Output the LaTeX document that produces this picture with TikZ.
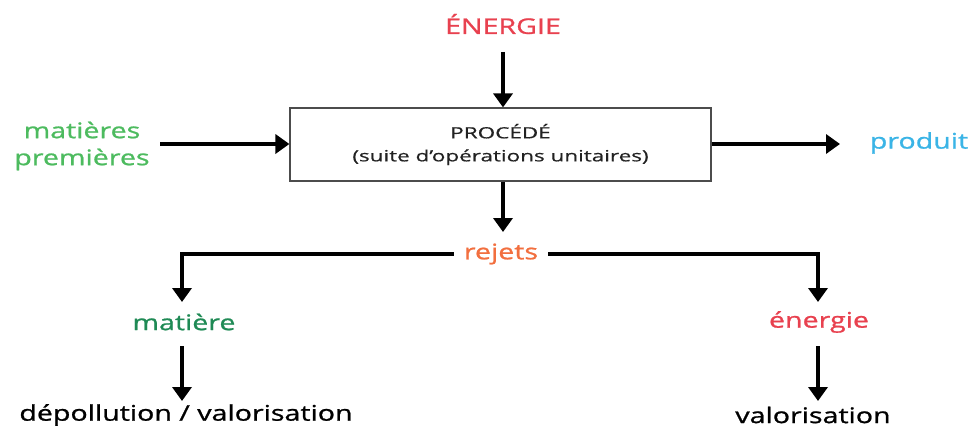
\documentclass[tikz,border=0pt]{standalone}
\usepackage{fontspec}
\setmainfont[FakeStretch=1.33,FakeBold=1]{Open Sans}
\newfontfamily\boxfont[FakeStretch=1.45,FakeBold=0.6]{Open Sans}
\usetikzlibrary{arrows.meta}
\definecolor{cred}{HTML}{E8414F}
\definecolor{cgreen}{HTML}{4DBB5F}
\definecolor{cdgreen}{HTML}{1F8A55}
\definecolor{cblue}{HTML}{3AB4E6}
\definecolor{corange}{HTML}{F26F3F}
\definecolor{ctext}{HTML}{222222}
\tikzset{
  lbl/.style={font=\fontsize{21.5}{26}\selectfont, inner sep=0pt, align=center},
  flow/.style={line width=4.2pt, -{Triangle[width=19pt,length=14pt]}},
}
\begin{document}
\begin{tikzpicture}[x=1pt,y=-1pt]
\useasboundingbox (0,0) rectangle (976,428);
\node[lbl, text=cred] (E) at (503,24) {ÉNERGIE};
\node[draw=black!70, line width=1.2pt, minimum width=421pt, minimum height=73pt, inner sep=0pt, align=center, text=ctext,
      font=\boxfont\fontsize{15.5}{23}\selectfont] (P) at (500.5,144.5) {PROCÉDÉ\\(suite d’opérations unitaires)};
\node[lbl, text=cgreen, font=\fontsize{21.5}{27}\selectfont] (M) at (82,146) {matières\\premières};
\node[lbl, text=cblue] (Pr) at (919,143) {produit};
\node[lbl, text=corange, inner xsep=10pt] (R) at (501,254) {rejets};
\node[lbl, text=cdgreen] (Ma) at (184,322) {matière};
\node[lbl, text=cred] (En) at (819,322) {énergie};
\node[lbl, text=black] (D) at (186,415) {dépollution / valorisation};
\node[lbl, text=black] (V) at (813,415) {valorisation};
\coordinate (Et) at (503,52);
\coordinate (Mr) at (160,144);
\coordinate (Pl) at (840,144);
\coordinate (Rt) at (503,232);
\coordinate (Mab) at (182,346);
\coordinate (Mat) at (182,302);
\coordinate (Enb) at (818,346);
\coordinate (Ent) at (818,302);
\coordinate (Dt) at (182,401);
\coordinate (Vt) at (818,401);
\draw[flow] (Et) -- (P.north -| Et);
\draw[flow] (Mr) -- (P.west |- Mr);
\draw[flow] (P.east |- Pl) -- (Pl);
\draw[flow] (P.south -| Rt) -- (Rt);
\draw[flow] (R.west) -| (Mat);
\draw[flow] (R.east) -| (Ent);
\draw[flow] (Mab) -- (Dt);
\draw[flow] (Enb) -- (Vt);
\end{tikzpicture}
\end{document}
